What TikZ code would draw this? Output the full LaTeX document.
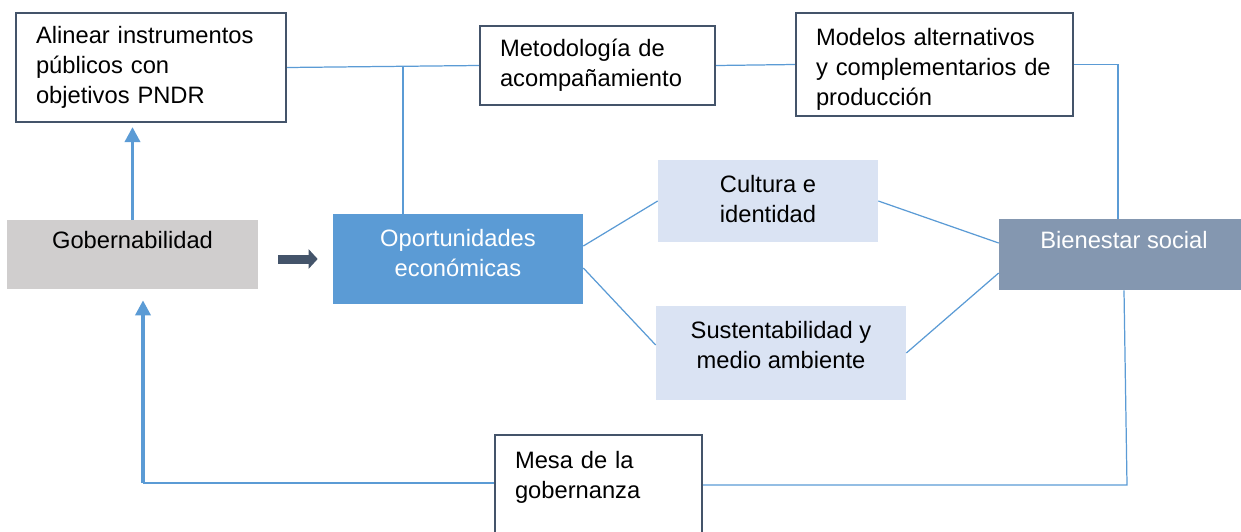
\documentclass[tikz,border=0pt]{standalone}
\usepackage{fontspec}
\setmainfont{Liberation Sans}
\usetikzlibrary{arrows.meta}
\definecolor{azul}{HTML}{5B9BD5}
\definecolor{pizarra}{HTML}{44546A}
\definecolor{gris}{HTML}{D0CECE}
\definecolor{celeste}{HTML}{DAE3F3}
\definecolor{acero}{HTML}{8497B0}
\begin{document}
\begin{tikzpicture}[x=0.02cm, y=-0.02cm,
    font=\fontsize{13.5}{17}\selectfont,
    caja/.style={draw=pizarra, line width=1.2pt, fill=white, align=left, inner xsep=0.4cm},
    bloque/.style={align=center, inner sep=0pt},
    enlace/.style={draw=azul, line width=0.7pt},
    flecha/.style={azul, line width=2pt, -{Triangle[length=0.3cm,width=0.3cm]}}
  ]
    \clip (0,0) rectangle (1241,531);

    \node[caja, text width=4.6cm, minimum height=2.18cm] (alinear) at (151,67.5) {Alinear instrumentos\\públicos con\\objetivos PNDR};
    \node[caja, text width=3.9cm, minimum height=1.58cm] (metodo) at (597.5,65.5) {Metodología de\\acompañamiento};
    \node[caja, text width=4.74cm, minimum height=2.06cm, text height=15pt] (modelos) at (934.5,64.5) {Modelos alternativos\\y complementarios de\\producción};
    \node[caja, text width=3.34cm, minimum height=2.2cm] (mesa) at (598.5,490) {Mesa de la\\gobernanza\\~};

    \node[bloque, fill=gris, minimum width=5.02cm, minimum height=1.38cm] (gob) at (132.5,254.5) {Gobernabilidad\\~};
    \node[bloque, fill=azul, text=white, minimum width=5cm, minimum height=1.8cm, text depth=6.8pt] (oportun) at (458,259) {Oportunidades\\económicas};
    \node[bloque, fill=celeste, minimum width=4.4cm, minimum height=1.64cm, text depth=2.5pt] (cultura) at (768,201) {Cultura e\\identidad};
    \node[bloque, fill=celeste, minimum width=5cm, minimum height=1.88cm, text depth=9pt] (sustent) at (781,353) {Sustentabilidad y\\medio ambiente};
    \node[bloque, fill=acero, text=white, minimum width=5cm, minimum height=1.42cm] (bienestar) at (1124,254.5) {Bienestar social\\~};

    % linea superior
    \draw[enlace] (alinear.east) -- (metodo.west);
    \coordinate (union) at (403,67);
    \draw[enlace] (union) -- (union |- oportun.north);
    \draw[enlace] (metodo.east) -- (modelos.west);
    \draw[enlace] (modelos.east) -| ([xshift=-0.12cm]bienestar.north);

    % centro
    \draw[enlace] ([yshift=0.26cm]oportun.east) -- (cultura.west);
    \draw[enlace] ([yshift=-0.18cm]oportun.east) -- ([yshift=0.16cm]sustent.west);
    \draw[enlace] (cultura.east) -- ([yshift=0.23cm]bienestar.west);
    \draw[enlace] (sustent.east) -- ([yshift=-0.37cm]bienestar.west);

    % retorno inferior
    \coordinate (esq) at (1127,485);
    \draw[enlace] (bienestar.south) -- (esq) -- (esq -| mesa.east);
    \coordinate (esq2) at (143,483);
    \draw[enlace, line width=1pt] (mesa.west |- esq2) -- (esq2);
    \draw[flecha, shorten >=0.22cm] (esq2) -- (esq2 |- gob.south);
    \draw[flecha, shorten >=0.08cm] (gob.north) -- (gob.north |- alinear.south);

    \draw[pizarra, line width=0.18cm, -{Triangle[length=0.18cm,width=0.38cm]}, shorten <=0.4cm, shorten >=0.3cm] (gob.east |- oportun.west) -- (oportun.west);
\end{tikzpicture}
\end{document}
